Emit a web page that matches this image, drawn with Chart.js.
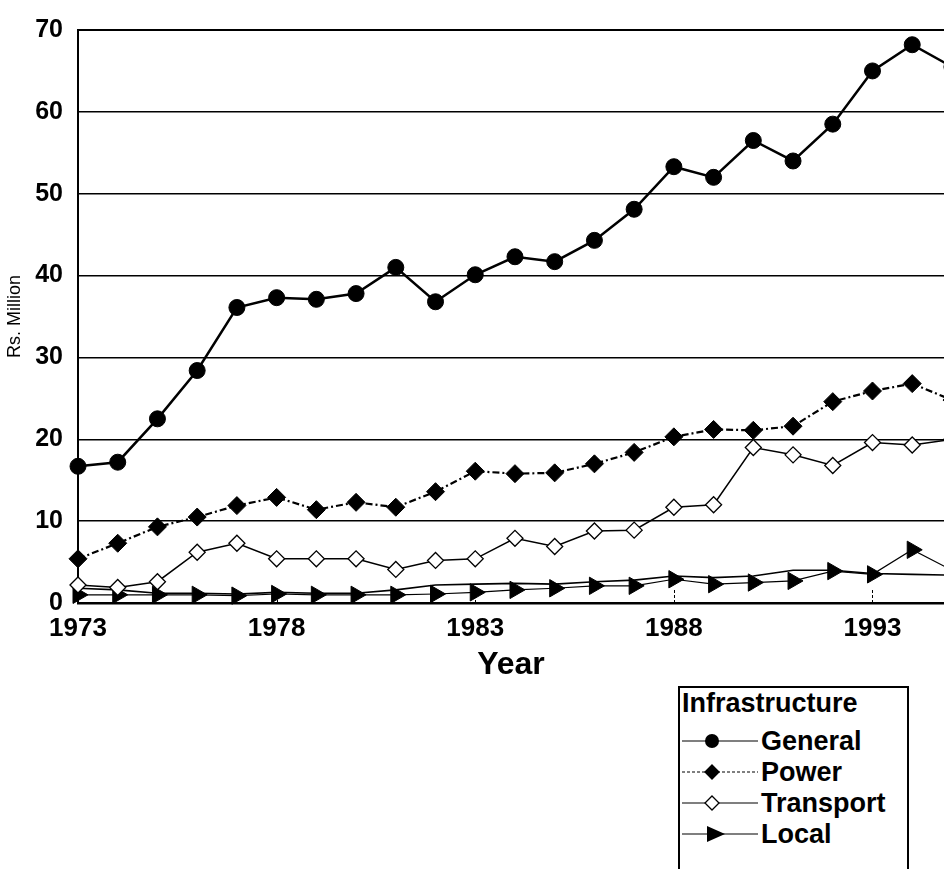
<!DOCTYPE html>
<html lang="en">
<head>
<meta charset="UTF-8">
<title>Infrastructure - Rs. Million</title>
<script src="https://cdn.jsdelivr.net/npm/chart.js"></script>
<style>
  body { margin: 0; background: #fff; }
  .page {
    position: relative;
    width: 944px;
    height: 869px;
    overflow: hidden;
    font-family: 'Liberation Sans', Arial, sans-serif;
  }
  #chart { position: absolute; left: 0; top: 0; }
  .legend {
    position: absolute;
    left: 678px;
    top: 686px;
    width: 227px;
    height: 220px;
    border: 2px solid #000;
    background: #fff;
  }
  .legend-title, .legend-row {
    position: absolute;
    left: 2px;
    height: 30px;
    line-height: 30px;
    font-weight: bold;
    font-size: 27px;
    color: #000;
    white-space: nowrap;
  }
  .legend-row { display: flex; align-items: center; }
  .legend-row svg { margin-right: 3px; }
</style>
</head>
<body>
<div class="page">
  <canvas id="chart" width="944" height="690"></canvas>
  <div class="legend" id="legend"></div>
</div>

<script>
// data
var years = [1973, 1974, 1975, 1976, 1977, 1978, 1979, 1980, 1981, 1982, 1983, 1984,
             1985, 1986, 1987, 1988, 1989, 1990, 1991, 1992, 1993, 1994, 1995];
var general   = [16.7, 17.2, 22.5, 28.4, 36.1, 37.3, 37.1, 37.8, 41.0, 36.8, 40.1, 42.3,
                 41.7, 44.3, 48.1, 53.3, 52.0, 56.5, 54.0, 58.5, 65.0, 68.2, 65.5];
var power     = [5.4, 7.3, 9.3, 10.5, 11.9, 12.9, 11.4, 12.3, 11.7, 13.6, 16.1, 15.8,
                 15.9, 17.0, 18.4, 20.3, 21.2, 21.1, 21.6, 24.6, 25.9, 26.8, 24.8];
var transport = [2.2, 1.9, 2.6, 6.2, 7.3, 5.4, 5.4, 5.4, 4.1, 5.2, 5.4, 7.9,
                 6.9, 8.8, 8.9, 11.7, 12.0, 19.0, 18.1, 16.8, 19.6, 19.3, 20.0];
var local     = [1.0, 1.0, 1.0, 1.0, 0.9, 1.1, 1.0, 1.0, 1.0, 1.1, 1.3, 1.6,
                 1.8, 2.1, 2.1, 2.9, 2.3, 2.5, 2.7, 3.9, 3.5, 6.5, 4.0];
// thin unmarked line running just above "Local"
var unmarked  = [1.8, 1.6, 1.2, 1.2, 1.1, 1.3, 1.2, 1.2, 1.6, 2.2, 2.3, 2.4,
                 2.3, 2.6, 2.8, 3.3, 3.1, 3.3, 4.0, 4.0, 3.6, 3.5, 3.4];

var xTicks = [1973, 1978, 1983, 1988, 1993];
var yMin = 0, yMax = 70, yStep = 10;

var FONT = "'Liberation Sans', Arial, sans-serif";

// short dashed marks standing up from the x axis at each labelled year
var innerTicks = {
  id: 'innerTicks',
  beforeDatasetsDraw: function(chart) {
    var ctx = chart.ctx, area = chart.chartArea, xs = chart.scales.x;
    ctx.save();
    ctx.strokeStyle = '#000';
    ctx.lineWidth = 1;
    ctx.setLineDash([3, 2]);
    xTicks.slice(1).forEach(function(v) {
      var px = Math.round(xs.getPixelForValue(v)) + 0.5;
      ctx.beginPath();
      ctx.moveTo(px, area.bottom);
      ctx.lineTo(px, area.bottom - 14);
      ctx.stroke();
    });
    ctx.restore();
  }
};

var chart = new Chart(document.getElementById('chart'), {
  type: 'line',
  data: {
    labels: years,
    datasets: [
      {
        label: 'General', data: general,
        borderColor: '#000', backgroundColor: '#000', borderWidth: 2.5,
        pointStyle: 'circle', pointRadius: 8, pointBorderWidth: 1
      },
      {
        label: 'Power', data: power,
        borderColor: '#000', backgroundColor: '#000', borderWidth: 2.2,
        borderDash: [7, 3, 2, 3],
        pointStyle: 'rectRot', pointRadius: 9, pointBorderWidth: 1
      },
      {
        label: 'Transport', data: transport,
        borderColor: '#000', backgroundColor: '#fff', borderWidth: 1.5,
        pointStyle: 'rectRot', pointRadius: 8, pointBorderWidth: 1.3
      },
      {
        label: 'Local', data: local,
        borderColor: '#000', backgroundColor: '#000', borderWidth: 1.2,
        pointStyle: 'triangle', pointRotation: 90, pointRadius: 10, pointBorderWidth: 1
      },
      {
        label: '', data: unmarked,
        borderColor: '#000', borderWidth: 1.6, pointRadius: 0
      }
    ]
  },
  options: {
    responsive: false,
    animation: false,
    layout: { autoPadding: false, padding: { top: 28, right: 0, bottom: 0, left: 0 } },
    elements: { line: { tension: 0 } },
    datasets: { line: { clip: false } },
    plugins: {
      legend: { display: false },
      tooltip: { enabled: false }
    },
    scales: {
      x: {
        type: 'linear',
        min: 1973,
        max: 1994.8,
        afterBuildTicks: function(scale) {
          scale.ticks = xTicks.map(function(v) { return { value: v }; });
        },
        afterFit: function(scale) { scale.height = 87; },
        grid: { display: false },
        border: { display: true, color: '#000', width: 2.5 },
        ticks: {
          color: '#000',
          padding: 2,
          maxRotation: 0,
          font: { family: FONT, size: 26, weight: 'bold' },
          callback: function(v) { return String(v); }
        },
        title: {
          display: true,
          text: 'Year',
          color: '#000',
          padding: { top: 0, bottom: 6 },
          font: { family: FONT, size: 32, weight: 'bold' }
        }
      },
      y: {
        min: yMin,
        max: yMax,
        afterFit: function(scale) { scale.width = 78; },
        grid: {
          color: '#000',
          lineWidth: function(ctx) { return ctx.tick && ctx.tick.value === yMax ? 2 : 1.5; },
          drawTicks: false
        },
        border: { display: true, color: '#000', width: 2 },
        ticks: {
          stepSize: yStep,
          color: '#000',
          padding: 15,
          font: { family: FONT, size: 25, weight: 'bold' }
        },
        title: {
          display: true,
          text: 'Rs. Million',
          color: '#000',
          padding: { top: 4, bottom: 0 },
          font: { family: FONT, size: 18 }
        }
      }
    }
  },
  plugins: [innerTicks]
});

// legend box built from the datasets
var rowCenters = [53, 84, 115, 146];
var legend = document.getElementById('legend');
var title = document.createElement('div');
title.className = 'legend-title';
title.style.top = '0px';
title.textContent = 'Infrastructure';
legend.appendChild(title);

function markerSvg(ds) {
  var w = 76, h = 30, cy = 15, cx = ds.pointStyle === 'triangle' ? 34 : 30;
  var dash = ds.borderDash ? ' stroke-dasharray="3,2"' : '';
  var s = '<svg width="' + w + '" height="' + h + '" xmlns="http://www.w3.org/2000/svg">';
  s += '<line x1="0" y1="' + cy + '" x2="' + w + '" y2="' + cy + '" stroke="#000" stroke-width="1.2"' + dash + '/>';
  if (ds.pointStyle === 'circle') {
    s += '<circle cx="' + cx + '" cy="' + cy + '" r="7" fill="#000"/>';
  } else if (ds.pointStyle === 'rectRot') {
    var r = 7;
    s += '<polygon points="' + cx + ',' + (cy - r) + ' ' + (cx + r) + ',' + cy + ' ' + cx + ',' + (cy + r) + ' ' + (cx - r) + ',' + cy +
         '" fill="' + ds.backgroundColor + '" stroke="#000" stroke-width="1.3"/>';
  } else if (ds.pointStyle === 'triangle') {
    s += '<polygon points="' + (cx - 9) + ',' + (cy - 8) + ' ' + (cx + 9) + ',' + cy + ' ' + (cx - 9) + ',' + (cy + 8) + '" fill="#000"/>';
  }
  return s + '</svg>';
}

chart.data.datasets.filter(function(ds) { return ds.label; }).forEach(function(ds, i) {
  var row = document.createElement('div');
  row.className = 'legend-row';
  row.style.top = (rowCenters[i] - 15) + 'px';
  row.innerHTML = markerSvg(ds) + '<span>' + ds.label + '</span>';
  legend.appendChild(row);
});
</script>
</body>
</html>
